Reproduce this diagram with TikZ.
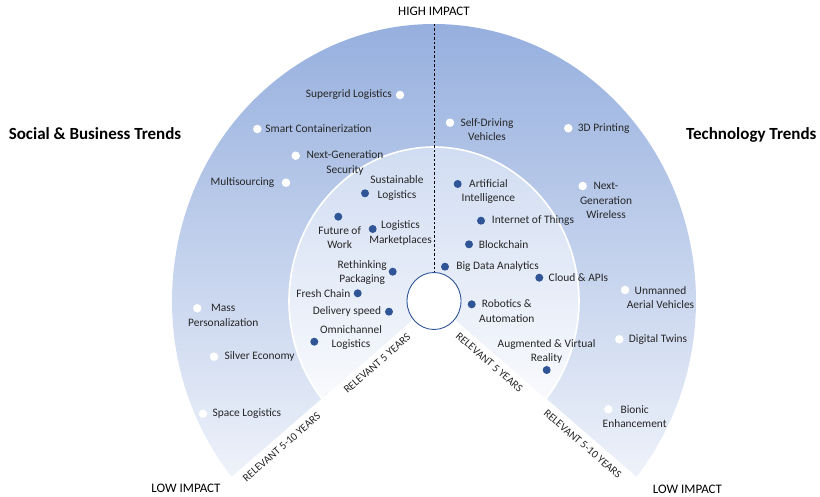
\documentclass[tikz,border=0pt]{standalone}
\usepackage{fontspec}
\setmainfont{Carlito}
\usepackage{tikz}
\usepackage{xcolor}
\usetikzlibrary{positioning,calc,shapes.geometric}

\definecolor{bandtop}{RGB}{143,170,220}
\definecolor{bandbot}{RGB}{238,242,250}
\definecolor{coretop}{RGB}{205,218,241}
\definecolor{corebot}{RGB}{249,250,253}
\definecolor{dotblue}{RGB}{47,85,151}
\definecolor{ink}{RGB}{38,38,38}

\begin{document}
\begin{tikzpicture}[x=1pt,y=1pt,
    trend/.style={align=center,inner sep=1pt,text=ink,font=\fontsize{11.4}{14.4}\selectfont},
    far dot/.style={circle,fill=white,inner sep=0pt,minimum size=8.5pt},
    near dot/.style={circle,fill=dotblue,inner sep=0pt,minimum size=8pt},
    edge label/.style={inner sep=0pt,text=ink,font=\fontsize{11}{13}\selectfont},
    impact/.style={inner sep=1pt,text=black,font=\fontsize{13}{15}\selectfont},
    heading/.style={inner sep=0pt,text=black,font=\fontsize{17}{20}\selectfont\bfseries}]

  \useasboundingbox (0,0) rectangle (820,496);
  \coordinate (c) at (434,195);
  \coordinate (top) at (434,472);
  \coordinate (tipL) at ($(c)+(219.4:262 and 277)$);
  \coordinate (tipR) at ($(c)+(-39.4:262 and 277)$);

  % bands
  \shade[top color=bandtop,bottom color=bandbot]
    (c) -- (tipL) arc[start angle=219.4,end angle=-39.4,x radius=262,y radius=277] -- cycle;
  \shade[top color=coretop,bottom color=corebot]
    (c) -- ++(219.4:145 and 154) arc[start angle=219.4,end angle=-39.4,x radius=145,y radius=154] -- cycle;
  \draw[white,line width=1.6pt]
    (c) ++(219.4:145 and 154) arc[start angle=219.4,end angle=-39.4,x radius=145,y radius=154];

  \node[ellipse,draw=dotblue,line width=0.9pt,fill=white,minimum width=54pt,minimum height=57pt,inner sep=0pt] (hub) at (c) {};
  \draw[dash pattern=on 2.5pt off 2pt,line width=0.8pt] (top) -- (hub.north);

  \node[impact] (high) [above=7pt of top] {HIGH IMPACT};
  \node[impact] (lowL) at (186,8) {LOW IMPACT};
  \node[impact] (lowR) at (687.5,7) {LOW IMPACT};
  \node[heading,anchor=base] (sbt) at (95,356.5) {Social \& Business Trends};
  \node[heading,anchor=base] (tt) at (751.3,356.5) {Technology Trends};

  \node[edge label,rotate=41] (rel5L) at ($(c)!84pt!(tipL)+(311:10)$) {RELEVANT 5 YEARS};
  \node[edge label,rotate=41] (rel10L) at ($(c)!211pt!(tipL)+(311:10.5)$) {RELEVANT 5-10 YEARS};
  \node[edge label,rotate=-41] (rel5R) at ($(c)!82pt!(tipR)+(229:10)$) {RELEVANT 5 YEARS};
  \node[edge label,rotate=-41] (rel10R) at ($(c)!206pt!(tipR)+(229:10.5)$) {RELEVANT 5-10 YEARS};

  % outer ring
  \node[far dot] (sg) at (400,401) {};
  \node[trend] (sgl) [left=2.5pt of sg] {Supergrid Logistics};
  \node[far dot] (sc) at (257.3,367) {};
  \node[trend] (scl) [right=2.5pt of sc] {Smart Containerization};
  \node[far dot] (ngs) at (295.7,340.3) {};
  \node[trend] (ngsl) at (345,333) {Next-Generation\\Security};
  \node[far dot] (ms) at (286,313.3) {};
  \node[trend] (msl) [left=6pt of ms] {Multisourcing};
  \node[far dot] (sdv) at (450,373.3) {};
  \node[trend] (sdvl) at (487,366.7) {Self-Driving\\Vehicles};
  \node[far dot] (tdp) at (568.3,367.7) {};
  \node[trend] (tdpl) [right=4pt of tdp] {3D Printing};
  \node[far dot] (ngw) at (582.7,310) {};
  \node[trend] (ngwl) at (606,295.3) {Next-\\Generation\\Wireless};
  \node[far dot] (uav) at (625,206) {};
  \node[trend] (uavl) at (660.5,198.5) {Unmanned\\Aerial Vehicles};
  \node[far dot] (dt) at (619.3,156.7) {};
  \node[trend] (dtl) [right=4pt of dt] {Digital Twins};
  \node[far dot] (be) at (608.3,86.7) {};
  \node[trend] (bel) at (634.7,79.3) {Bionic\\Enhancement};
  \node[far dot] (mp) at (197.3,187.7) {};
  \node[trend] (mpl) at (223.3,180.5) {Mass\\Personalization};
  \node[far dot] (se) at (214,139.3) {};
  \node[trend] (sel) [right=5pt of se] {Silver Economy};
  \node[far dot] (sl) at (203,82.3) {};
  \node[trend] (sll) [right=4pt of sl] {Space Logistics};

  % inner ring
  \node[near dot] (sus) at (365,302.7) {};
  \node[trend] (susl) at (397,308) {Sustainable\\Logistics};
  \node[near dot] (fow) at (338.3,279.3) {};
  \node[trend] (fowl) at (339.7,258.5) {Future of\\Work};
  \node[near dot] (lm) at (372.7,267) {};
  \node[trend] (lml) at (400.5,263) {Logistics\\Marketplaces};
  \node[near dot] (rp) at (392.7,224.3) {};
  \node[trend] (rpl) at (362.2,223.5) {Rethinking\\Packaging};
  \node[near dot] (fc) at (357.7,202.7) {};
  \node[trend] (fcl) [left=2pt of fc] {Fresh Chain};
  \node[near dot] (ds) at (389,184.3) {};
  \node[trend] (dsl) [left=2.5pt of ds] {Delivery speed};
  \node[near dot] (oc) at (314.3,154.3) {};
  \node[trend] (ocl) at (351,158.5) {Omnichannel\\Logistics};
  \node[near dot] (ai) at (457.7,312) {};
  \node[trend] (ail) at (488.4,304.3) {Artificial\\Intelligence};
  \node[near dot] (iot) at (481,275.3) {};
  \node[trend] (iotl) [right=5.5pt of iot] {Internet of Things};
  \node[near dot] (bc) at (469,251.7) {};
  \node[trend] (bcl) [right=4.5pt of bc] {Blockchain};
  \node[near dot] (bda) at (445,229.3) {};
  \node[trend] (bdal) [right=6pt of bda] {Big Data Analytics};
  \node[near dot] (cl) at (539.3,218.3) {};
  \node[trend] (cll) [right=4pt of cl] {Cloud \& APIs};
  \node[near dot] (ra) at (471.7,191.7) {};
  \node[trend] (ral) at (506.8,185) {Robotics \&\\Automation};
  \node[near dot] (arvr) at (546.7,126) {};
  \node[trend] (arvrl) at (546.6,144.5) {Augmented \& Virtual\\Reality};
\end{tikzpicture}
\end{document}
